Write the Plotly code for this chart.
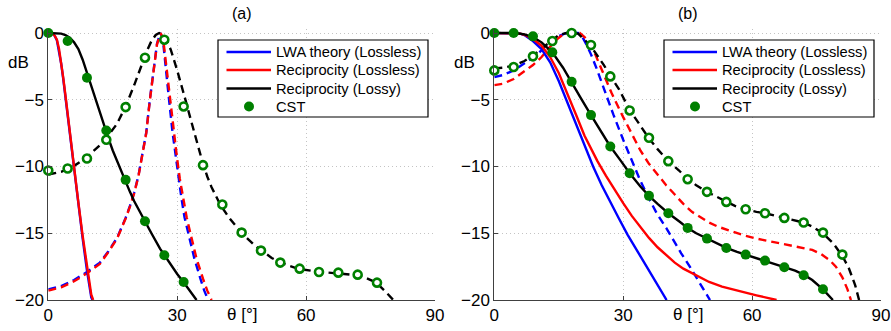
import plotly.graph_objects as go

# ---------------- Panel (a) data ----------------
a_lwa_x = [0, 0.5, 1, 1.5, 2, 2.5, 3, 3.5, 4, 5, 6, 7, 8, 9, 10, 10.3]
a_lwa_y = [0, 0, -0.06, -0.22, -0.55, -1.3, -2.3, -3.5, -4.85, -7.65, -10.3, -12.9, -15.4, -17.8, -19.8, -20]
a_rec_x = [0, 0.5, 1, 1.5, 2, 2.5, 3, 3.5, 4, 5, 6, 7, 8, 9, 10, 10.45]
a_rec_y = [0, 0, -0.05, -0.2, -0.5, -1.2, -2.2, -3.4, -4.7, -7.5, -10.1, -12.7, -15.2, -17.6, -19.6, -20]
a_lossy_x = [0, 2, 3, 4, 5, 6, 7, 8, 9, 10, 11, 12, 13, 14, 15, 16, 17, 18, 19, 20, 22, 24, 26, 28, 30, 32, 34, 34.5]
a_lossy_y = [0, 0, -0.05, -0.15, -0.35, -0.7, -1.2, -2.0, -3.0, -3.9, -4.9, -5.9, -6.95, -7.9, -8.8, -9.6,
             -10.4, -11.1, -11.9, -12.6, -13.85, -15.0, -16.15, -17.15, -18.05, -18.9, -19.75, -20]
a_cst_x = [0, 4.5, 9, 13.5, 18, 22.5, 27, 31.5]
a_cst_y = [0, -0.6, -3.35, -7.3, -11.0, -14.1, -16.65, -18.65]

a_lwa_scan_x = [0, 3, 6, 9, 12, 14, 16, 17, 18, 19, 20, 21, 22, 22.8, 23.65, 24.55, 25.3, 26.05,
                26.5, 26.8, 27.4, 28.1, 28.9, 29.6, 30.3, 31.0, 31.7, 32.5, 34.0, 35.4, 36.3, 37.2]
a_lwa_scan_y = [-19.2, -18.95, -18.5, -17.9, -17.2, -16.35, -15.35, -14.65, -13.85, -12.95, -11.95, -10.65,
                -8.95, -7.45, -4.95, -2.45, -0.8, 0, -0.3, -0.9, -2.6, -5.0, -7.4, -9.2, -10.9, -12.4,
                -13.8, -14.9, -16.9, -18.4, -19.3, -20]
a_rec_scan_x = [0, 3, 6, 9, 12, 14, 16, 17, 18, 19, 20, 21, 22, 22.8, 23.65, 24.55, 25.3, 26.1,
                26.6, 26.9, 27.5, 28.3, 29.1, 29.9, 30.6, 31.4, 32.2, 33.0, 34.5, 36.0, 37.0, 38.0]
a_rec_scan_y = [-19.3, -19.05, -18.6, -18.0, -17.3, -16.4, -15.4, -14.7, -13.9, -13.0, -12.0, -10.7,
                -9.0, -7.5, -5.0, -2.5, -0.85, 0, -0.3, -0.9, -2.6, -5.0, -7.4, -9.2, -10.9, -12.4,
                -13.8, -14.9, -16.9, -18.4, -19.3, -20]
a_lossy_scan_x = [0, 3, 6, 9, 12, 14, 16, 18, 20, 22, 23, 24, 25, 25.8, 26.5, 27.5, 28.5, 30, 31, 32, 33,
                  34, 35, 36, 37, 38, 40, 42, 44, 46, 48, 50, 52, 54, 56, 58, 62, 66, 70, 72, 74, 76, 77,
                  78, 79, 80.3]
a_lossy_scan_y = [-10.6, -10.4, -9.95, -9.3, -8.4, -7.65, -6.8, -5.5, -3.9, -2.1, -1.3, -0.6, -0.15, 0,
                  -0.1, -0.55, -1.25, -2.8, -3.9, -5.1, -6.3, -7.5, -8.7, -9.8, -10.75, -11.55, -12.85,
                  -13.8, -14.6, -15.3, -15.9, -16.4, -16.85, -17.2, -17.45, -17.65, -17.85, -17.95,
                  -18.05, -18.15, -18.35, -18.65, -18.9, -19.2, -19.55, -20]
a_cst_scan_x = [0, 4.5, 9, 13.5, 18, 22.5, 27, 31.5, 36, 40.5, 45, 49.5, 54, 58.5, 63, 67.5, 72, 76.5]
a_cst_scan_y = [-10.3, -10.15, -9.4, -8.0, -5.55, -1.85, -0.5, -5.5, -9.9, -12.85, -14.95, -16.3,
                -17.2, -17.65, -17.9, -17.95, -18.1, -18.7]

# ---------------- Panel (b) data ----------------
b_lwa_x = [0, 5, 6, 7, 8, 9, 11, 13, 15, 17, 19, 21, 23, 25, 27, 29, 31, 33, 35, 37, 39, 40.1]
b_lwa_y = [0, 0, -0.05, -0.15, -0.35, -0.6, -1.2, -2.2, -3.6, -5.2, -6.9, -8.5, -10.0, -11.4, -12.7,
           -13.9, -15.1, -16.2, -17.3, -18.4, -19.4, -20]
b_rec_x = [0, 5, 6, 7, 8, 9, 11, 13, 15, 17, 19, 21, 22.3, 24, 26, 28, 30, 32, 34, 36, 38, 40, 42, 44,
           46, 48, 50, 53, 57, 61, 65.7]
b_rec_y = [0, 0, -0.05, -0.13, -0.28, -0.45, -0.95, -1.8, -3.0, -4.5, -6.1, -7.7, -8.55, -9.6, -10.7,
           -11.75, -12.75, -13.7, -14.55, -15.35, -16.05, -16.65, -17.2, -17.65, -18.0, -18.35, -18.65,
           -19.0, -19.35, -19.65, -20]
b_lossy_x = [0, 5, 7, 9, 11, 13.5, 16, 18, 20, 22.5, 25, 27, 29.5, 31.5, 34, 36, 38, 40.5, 43, 45, 47,
             49.5, 52, 54, 56.5, 58.5, 61, 63, 65, 67.5, 70, 72, 74, 76.5, 78.8]
b_lossy_y = [0, 0, -0.1, -0.3, -0.7, -1.45, -2.6, -3.65, -4.8, -6.15, -7.5, -8.5, -9.6, -10.5, -11.5,
             -12.2, -12.8, -13.5, -14.1, -14.6, -15.0, -15.4, -15.8, -16.1, -16.4, -16.6, -16.85,
             -17.05, -17.3, -17.55, -17.8, -18.1, -18.5, -19.2, -20]
b_cst_x = [0, 4.5, 9, 13.5, 18, 22.5, 27, 31.5, 36, 40.5, 45, 49.5, 54, 58.5, 63, 67.5, 72, 76.5]
b_cst_y = [0, 0, -0.25, -1.45, -3.65, -6.15, -8.5, -10.5, -12.2, -13.5, -14.6, -15.4, -16.1, -16.6,
           -17.05, -17.55, -18.15, -19.2]

b_lwa_scan_x = [0, 2, 4.5, 7, 9, 11, 12.2, 14.5, 16.8, 19.5, 20.5, 21.5, 22.5, 23.8, 25.7, 27.7, 30, 32,
                33.9, 36, 37.8, 40, 41.6, 43.5, 45.5, 48, 50.2]
b_lwa_scan_y = [-3.3, -3.15, -2.8, -2.3, -1.85, -1.3, -0.9, -0.3, 0, 0, -0.3, -0.9, -1.6, -2.65, -4.4,
                -6.1, -8.0, -9.6, -11.0, -12.4, -13.5, -14.6, -15.5, -16.5, -17.5, -18.8, -20]
b_rec_scan_x = [0, 2, 4.5, 7, 9, 11, 12.5, 14.5, 16, 17.6, 19.9, 21, 22, 23.5, 25, 27.3, 30, 32, 34, 36,
                38, 40, 42, 44, 46, 48, 50, 52, 55, 58, 61, 64, 67, 70, 72, 74, 76, 78, 79.5, 81, 82.2, 83]
b_rec_scan_y = [-3.9, -3.8, -3.45, -2.9, -2.4, -1.8, -1.2, -0.5, -0.1, 0, 0, -0.3, -0.7, -1.6, -2.7,
                -4.5, -6.3, -7.5, -8.8, -9.8, -10.6, -11.4, -12.1, -12.8, -13.4, -13.8, -14.2, -14.5,
                -14.85, -15.15, -15.4, -15.6, -15.75, -15.95, -16.1, -16.25, -16.55, -17.0, -17.5,
                -18.3, -19.2, -20]
b_lossy_scan_x = [0, 2, 4.5, 7, 9, 11, 13.3, 15, 16.8, 19.5, 21, 22.5, 24, 25.5, 27, 29, 31.5, 34, 36,
                  38, 40.5, 43, 45, 47, 49.5, 52, 54, 56, 58.5, 61, 63, 65, 67.5, 70, 72, 74, 76.5, 79,
                  81, 82.5, 84, 84.9]
b_lossy_scan_y = [-2.65, -2.6, -2.45, -2.1, -1.7, -1.2, -0.6, -0.15, 0, -0.05, -0.5, -1.0, -1.7, -2.4,
                  -3.2, -4.2, -5.75, -7.0, -7.9, -8.7, -9.6, -10.3, -10.95, -11.4, -11.9, -12.3, -12.65,
                  -12.95, -13.2, -13.4, -13.5, -13.65, -13.85, -14.05, -14.2, -14.5, -15.0, -15.8,
                  -16.7, -17.6, -18.9, -20]
b_cst_scan_x = [0, 4.5, 9, 13.5, 18, 22.5, 27, 31.5, 36, 40.5, 45, 49.5, 54, 58.5, 63, 67.5, 72, 76.5, 81]
b_cst_scan_y = [-2.8, -2.55, -1.75, -0.6, 0, -0.9, -3.25, -5.8, -7.85, -9.6, -10.95, -11.9, -12.65,
                -13.2, -13.5, -13.85, -14.2, -14.95, -16.6]

# ---------------- Labels ----------------
series_names = ["LWA theory (Lossless)", "Reciprocity (Lossless)", "Reciprocity (Lossy)", "CST"]
panel_titles = ["(a)", "(b)"]
x_ticks = [0, 30, 60, 90]
y_ticks = [0, -5, -10, -15, -20]

BLUE, RED, BLACK, GREEN = "#0000ff", "#ff0000", "#000000", "#008000"
FONT = "Liberation Sans, Arial, Helvetica, sans-serif"
LW = 2.4
DASH = "8px,5px"

fig = go.Figure()


def add_panel(xa, ya, data):
    (lwa_x, lwa_y, rec_x, rec_y, lossy_x, lossy_y, cst_x, cst_y,
     lwas_x, lwas_y, recs_x, recs_y, lossys_x, lossys_y, csts_x, csts_y) = data
    # dashed (scanned) curves
    fig.add_trace(go.Scatter(x=lwas_x, y=lwas_y, mode="lines", xaxis=xa, yaxis=ya, name=series_names[0],
                             line=dict(color=BLUE, width=LW, dash=DASH)))
    fig.add_trace(go.Scatter(x=recs_x, y=recs_y, mode="lines", xaxis=xa, yaxis=ya, name=series_names[1],
                             line=dict(color=RED, width=LW, dash=DASH)))
    fig.add_trace(go.Scatter(x=lossys_x, y=lossys_y, mode="lines", xaxis=xa, yaxis=ya, name=series_names[2],
                             line=dict(color=BLACK, width=LW, dash=DASH)))
    # solid (broadside) curves
    fig.add_trace(go.Scatter(x=lwa_x, y=lwa_y, mode="lines", xaxis=xa, yaxis=ya, name=series_names[0],
                             line=dict(color=BLUE, width=LW)))
    fig.add_trace(go.Scatter(x=rec_x, y=rec_y, mode="lines", xaxis=xa, yaxis=ya, name=series_names[1],
                             line=dict(color=RED, width=LW)))
    fig.add_trace(go.Scatter(x=lossy_x, y=lossy_y, mode="lines", xaxis=xa, yaxis=ya, name=series_names[2],
                             line=dict(color=BLACK, width=LW)))
    # CST markers
    fig.add_trace(go.Scatter(x=csts_x, y=csts_y, mode="markers", xaxis=xa, yaxis=ya, name=series_names[3],
                             cliponaxis=False,
                             marker=dict(symbol="circle", size=8, color="white",
                                         line=dict(color=GREEN, width=2.6))))
    fig.add_trace(go.Scatter(x=cst_x, y=cst_y, mode="markers", xaxis=xa, yaxis=ya, name=series_names[3],
                             cliponaxis=False,
                             marker=dict(symbol="circle", size=10, color=GREEN, line=dict(width=0))))


add_panel("x", "y",
          (a_lwa_x, a_lwa_y, a_rec_x, a_rec_y, a_lossy_x, a_lossy_y, a_cst_x, a_cst_y,
           a_lwa_scan_x, a_lwa_scan_y, a_rec_scan_x, a_rec_scan_y, a_lossy_scan_x, a_lossy_scan_y,
           a_cst_scan_x, a_cst_scan_y))
add_panel("x2", "y2",
          (b_lwa_x, b_lwa_y, b_rec_x, b_rec_y, b_lossy_x, b_lossy_y, b_cst_x, b_cst_y,
           b_lwa_scan_x, b_lwa_scan_y, b_rec_scan_x, b_rec_scan_y, b_lossy_scan_x, b_lossy_scan_y,
           b_cst_scan_x, b_cst_scan_y))

W, H = 891, 331
xdomA = [48.3 / W, 435 / W]
xdomB = [494.3 / W, 881 / W]
ydom = [(H - 300) / H, (H - 29) / H]

axis_common = dict(showline=True, linecolor="#404040", linewidth=1, ticks="inside", ticklen=4,
                   tickcolor="#404040", showgrid=True, gridcolor="#c4c4c4", griddash="1px,3px",
                   gridwidth=1, zeroline=False, tickfont=dict(family=FONT, size=17, color="black"),
                   mirror=False, automargin=False)
xaxis_common = dict(axis_common, range=[0, 90], tickvals=x_ticks, ticktext=[str(v) for v in x_ticks])
yaxis_common = dict(axis_common, range=[-20, 0.3], tickvals=y_ticks,
                    ticktext=[str(v).replace("-", "\u2212") for v in y_ticks])

fig.update_layout(
    width=W, height=H, margin=dict(l=0, r=0, t=0, b=0, pad=0, autoexpand=False),
    paper_bgcolor="white", plot_bgcolor="white", showlegend=False,
    xaxis=dict(xaxis_common, domain=xdomA, anchor="y"),
    yaxis=dict(yaxis_common, domain=ydom, anchor="x"),
    xaxis2=dict(xaxis_common, domain=xdomB, anchor="y2"),
    yaxis2=dict(yaxis_common, domain=ydom, anchor="x2"),
)


def px(x):
    return x / W


def py(y):
    return 1 - y / H


annots, shapes = [], []
legend_colors = [BLUE, RED, BLACK]
legend_rows = [52, 70, 88.5, 106.5]
for i, (xr, xd, off) in enumerate([("x", xdomA, 0), ("x2", xdomB, 446)]):
    annots.append(dict(text=panel_titles[i], xref="paper", yref="paper", x=(xd[0] + xd[1]) / 2,
                       y=py(13.5), xanchor="center", yanchor="middle", showarrow=False,
                       font=dict(family=FONT, size=16, color="black")))
    annots.append(dict(text="\u03b8 [\u00b0]", xref=xr, yref="paper", x=45, y=py(314),
                       xanchor="center", yanchor="middle", showarrow=False,
                       font=dict(family=FONT, size=17, color="black")))
    annots.append(dict(text="dB", xref="paper", yref="paper", x=px(xd[0] * W - 29.5),
                       y=py(63), xanchor="center", yanchor="middle", showarrow=False,
                       font=dict(family=FONT, size=17, color="black")))
    # legend box (drawn as an inset like the MATLAB legend)
    shapes.append(dict(type="rect", xref="paper", yref="paper", x0=px(218 + off), x1=px(428 + off),
                       y0=py(117), y1=py(40), fillcolor="white", line=dict(color="black", width=1.2),
                       layer="above"))
    for k in range(3):
        shapes.append(dict(type="line", xref="paper", yref="paper", x0=px(226.5 + off), x1=px(271 + off),
                           y0=py(legend_rows[k]), y1=py(legend_rows[k]),
                           line=dict(color=legend_colors[k], width=2.6), layer="above"))
    shapes.append(dict(type="circle", xref="paper", yref="paper", x0=px(244 + off), x1=px(254 + off),
                       y0=py(legend_rows[3] + 5), y1=py(legend_rows[3] - 5), fillcolor=GREEN,
                       line=dict(width=0), layer="above"))
    for k in range(4):
        annots.append(dict(text=series_names[k], xref="paper", yref="paper", x=px(274 + off),
                           y=py(legend_rows[k]), xanchor="left", yanchor="middle", showarrow=False,
                           font=dict(family=FONT, size=14.7, color="black")))

fig.update_layout(annotations=annots, shapes=shapes)

fig.write_html("out.html", config={"displayModeBar": False},
               post_script="document.body.style.margin='0';document.body.style.overflow='hidden';")
